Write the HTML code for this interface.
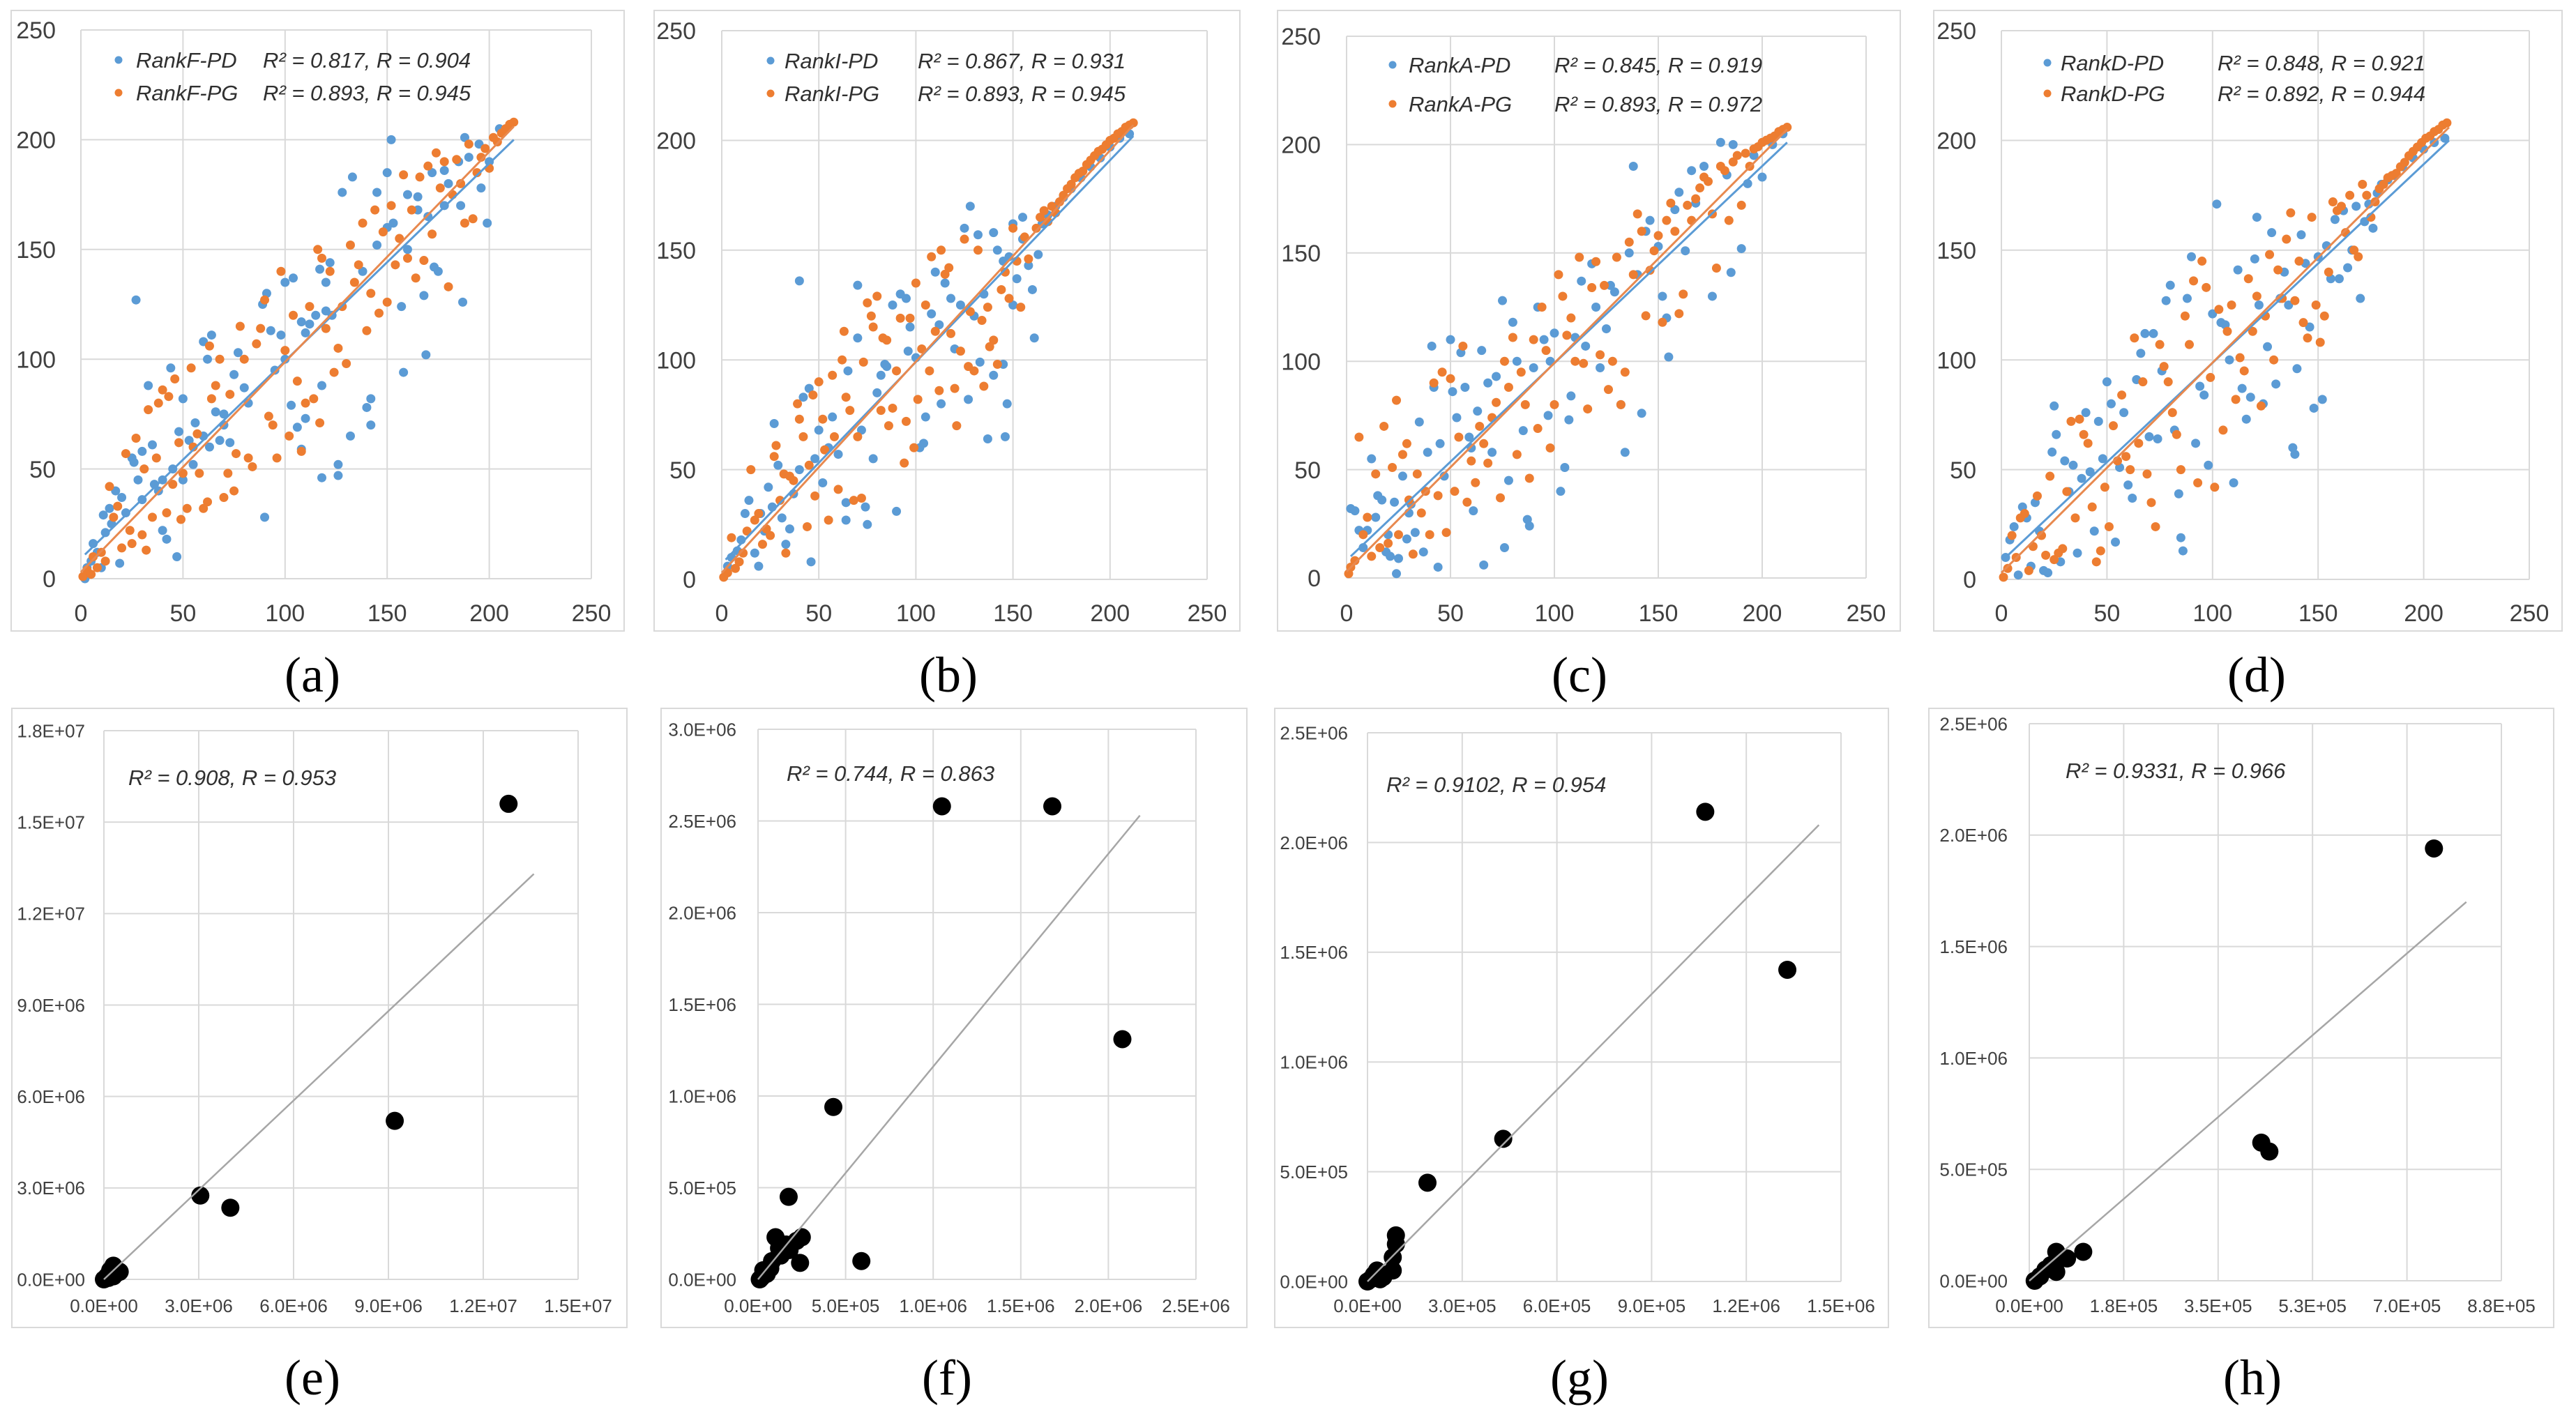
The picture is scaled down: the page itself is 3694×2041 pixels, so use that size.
<!DOCTYPE html>
<html><head><meta charset="utf-8">
<style>
html,body{margin:0;padding:0;background:#fff;}
svg{display:block;}
.tick{font-family:"Liberation Sans",sans-serif;fill:#404040;}
.leg{font-family:"Liberation Sans",sans-serif;font-style:italic;fill:#303030;}
.cap{font-family:"Liberation Serif",serif;fill:#000;}
</style></head>
<body>
<svg id="fig" width="3694" height="2041" viewBox="0 0 3694 2041" xmlns="http://www.w3.org/2000/svg"></svg>
<script>
// ---------- data (rank panels) ----------
const rankTicks = [0,50,100,150,200,250];
const aPD=[[27,127],[152,200],[188,201],[150,185],[133,183],[128,176],[145,176],[153,162],[160,175],[165,174],[172,185],[178,186],[186,170],[196,178],[199,162],[187,126],[175,140],[173,142],[168,129],[169,102],[158,94],[157,124],[142,82],[140,78],[142,70],[132,65],[126,52],[126,47],[118,46],[118,88],[123,120],[120,135],[122,144],[117,141],[112,116],[108,117],[104,137],[100,135],[98,111],[91,130],[89,125],[93,113],[103,79],[106,69],[110,73],[108,59],[90,28],[80,87],[77,103],[75,93],[73,62],[68,63],[66,76],[64,111],[60,108],[62,100],[56,71],[53,63],[50,82],[48,67],[47,10],[44,96],[42,18],[40,22],[38,40],[35,61],[33,88],[30,58],[28,45],[25,55],[26,53],[20,37],[19,7],[17,40],[14,32],[11,29],[6,16],[3,5],[5,8],[8,12],[12,21],[15,25],[22,30],[30,36],[36,43],[45,50],[55,52],[63,60],[70,75],[82,80],[95,95],[100,100],[110,112],[120,122],[138,140],[145,152],[150,160],[160,150],[165,168],[170,165],[180,180],[190,192],[195,198],[200,190],[205,205],[185,190],[178,170],[115,120],[70,70],[60,65],[40,45],[50,45],[10,5],[2,0]];
const aPG=[[1,1],[3,4],[5,2],[6,10],[8,5],[10,12],[12,8],[14,42],[16,28],[18,33],[20,14],[22,57],[24,22],[25,16],[27,64],[30,20],[31,50],[32,13],[33,77],[35,28],[37,55],[38,80],[40,86],[42,30],[43,83],[45,43],[46,91],[48,62],[49,27],[50,48],[52,32],[54,96],[55,60],[57,66],[58,48],[60,32],[62,35],[63,106],[64,82],[66,88],[68,100],[70,37],[72,48],[73,84],[75,40],[76,57],[78,115],[80,100],[82,55],[84,51],[86,107],[88,114],[90,127],[92,74],[94,70],[96,55],[98,140],[100,104],[102,65],[104,120],[106,90],[108,58],[110,80],[112,124],[114,82],[116,150],[117,71],[118,146],[120,114],[122,140],[124,94],[126,105],[128,124],[130,98],[132,152],[134,135],[136,143],[138,162],[140,113],[142,130],[144,168],[146,121],[148,158],[150,126],[152,170],[154,143],[156,155],[158,184],[160,146],[162,168],[164,137],[166,183],[168,145],[170,188],[172,157],[174,194],[176,178],[178,190],[180,133],[182,175],[184,191],[186,180],[188,162],[190,198],[192,164],[194,185],[196,192],[198,196],[200,187],[202,201],[204,199],[206,203],[208,205],[210,207],[212,208]];
const bPD=[[40,136],[70,134],[128,170],[125,160],[132,157],[150,162],[155,165],[148,147],[140,158],[142,150],[145,145],[161,110],[163,148],[160,132],[158,143],[152,137],[150,125],[147,80],[146,65],[137,64],[140,93],[133,99],[127,82],[123,125],[118,128],[115,135],[110,140],[108,121],[112,116],[113,80],[105,74],[102,60],[100,101],[97,115],[95,128],[92,130],[88,125],[85,97],[82,93],[80,85],[78,55],[75,25],[74,33],[72,68],[70,110],[65,95],[64,35],[64,27],[60,57],[57,74],[55,60],[52,44],[50,68],[48,55],[46,8],[45,87],[42,83],[40,50],[37,39],[35,23],[33,16],[31,28],[29,52],[27,71],[26,33],[24,42],[22,22],[20,30],[19,6],[17,12],[14,36],[12,30],[10,18],[8,13],[5,10],[3,6],[90,31],[84,98],[96,104],[104,62],[120,105],[130,120],[135,130],[145,98],[155,155],[165,162],[168,166],[172,170],[176,174],[180,178],[185,183],[190,188],[195,192],[200,197],[205,201],[210,203]];
const bPG=[[1,1],[3,3],[5,19],[7,5],[9,8],[11,12],[13,22],[15,50],[17,27],[19,30],[21,16],[23,23],[25,20],[27,56],[28,61],[30,36],[32,48],[33,12],[35,47],[37,45],[39,80],[40,73],[42,65],[44,24],[45,52],[47,84],[48,38],[50,90],[52,73],[53,59],[55,27],[57,93],[58,65],[60,41],[62,100],[63,113],[64,83],[66,77],[68,36],[70,65],[72,37],[73,99],[75,126],[77,120],[78,115],[80,129],[82,77],[83,110],[85,109],[86,70],[88,78],[90,95],[92,119],[94,53],[95,72],[97,119],[99,60],[100,135],[101,82],[103,105],[105,125],[107,95],[108,147],[110,113],[112,86],[113,150],[115,139],[117,142],[118,112],[120,87],[121,70],[123,104],[125,155],[127,97],[128,122],[130,95],[132,150],[134,118],[135,88],[137,124],[138,106],[140,109],[142,98],[144,132],[146,140],[148,128],[150,160],[152,145],[154,124],[156,156],[158,146],[162,160],[164,165],[166,168],[168,163],[170,170],[172,167],[174,172],[176,175],[178,178],[180,180],[182,183],[184,185],[186,186],[188,189],[190,191],[192,193],[194,195],[196,196],[198,198],[200,200],[202,201],[204,203],[206,204],[208,206],[210,207],[212,208]];
const cPD=[[2,32],[4,31],[6,22],[8,14],[10,22],[12,55],[14,28],[15,38],[17,36],[19,12],[21,10],[23,35],[24,2],[25,9],[27,47],[29,18],[31,34],[33,21],[35,72],[37,12],[39,58],[41,107],[42,88],[44,5],[45,62],[47,47],[50,110],[51,86],[53,74],[55,104],[57,88],[59,65],[61,31],[63,77],[65,105],[66,6],[68,90],[70,58],[72,93],[75,128],[76,14],[78,45],[80,118],[82,100],[85,68],[87,27],[88,24],[90,97],[92,125],[95,110],[97,75],[100,113],[103,40],[105,51],[107,73],[108,84],[110,111],[113,137],[115,107],[118,145],[120,125],[122,97],[125,115],[127,135],[129,132],[132,80],[134,58],[136,150],[138,190],[142,76],[144,160],[146,165],[150,153],[152,130],[154,120],[155,102],[158,170],[160,178],[163,151],[166,188],[168,173],[172,190],[176,130],[180,201],[183,186],[185,141],[186,200],[190,152],[193,182],[196,195],[200,185],[205,200],[210,205],[30,30],[20,20],[60,60],[98,100],[140,140]];
const cPG=[[1,2],[2,5],[4,8],[6,65],[8,20],[10,28],[12,10],[14,48],[16,14],[18,70],[20,16],[22,51],[24,82],[25,20],[27,57],[29,62],[30,36],[32,11],[34,48],[36,30],[38,40],[40,20],[42,90],[44,38],[46,95],[48,21],[50,92],[52,40],[54,65],[56,107],[58,35],[60,54],[62,44],[64,70],[66,62],[68,53],[70,74],[72,81],[74,37],[76,100],[78,88],[80,111],[82,57],[84,95],[86,80],[88,46],[90,110],[92,69],[94,125],[96,105],[98,60],[100,80],[102,140],[104,130],[106,112],[108,120],[110,100],[112,148],[114,99],[116,78],[118,134],[120,146],[122,103],[124,135],[126,87],[128,100],[130,148],[132,80],[134,95],[136,155],[138,140],[140,168],[142,160],[144,121],[146,142],[148,151],[150,158],[152,118],[154,165],[156,173],[158,160],[160,122],[162,131],[164,172],[166,165],[168,175],[170,180],[172,185],[174,183],[176,168],[178,143],[180,190],[182,188],[184,165],[186,192],[188,195],[190,172],[192,196],[194,190],[196,198],[198,199],[200,201],[202,202],[204,203],[206,204],[208,206],[210,207],[212,208]];
const dPD=[[2,10],[4,18],[6,24],[8,2],[10,33],[12,28],[14,6],[16,35],[18,22],[20,4],[22,3],[24,58],[25,79],[26,66],[28,8],[30,54],[32,40],[34,52],[36,12],[38,46],[40,76],[42,49],[44,22],[46,72],[48,55],[50,90],[52,80],[54,17],[56,51],[58,76],[60,43],[62,37],[64,91],[66,103],[68,112],[70,65],[72,112],[74,64],[76,95],[78,127],[80,134],[82,68],[84,39],[85,19],[86,13],[88,128],[90,147],[92,62],[94,88],[96,84],[98,52],[100,121],[102,171],[104,117],[106,116],[108,100],[110,44],[112,141],[114,87],[116,73],[118,83],[120,146],[121,165],[122,125],[124,80],[126,106],[128,158],[130,89],[132,128],[134,140],[136,125],[138,60],[139,57],[140,96],[142,157],[144,144],[146,115],[148,78],[150,147],[152,82],[154,152],[156,137],[158,164],[160,137],[162,168],[164,142],[166,150],[168,170],[170,128],[172,163],[174,171],[176,160],[178,176],[180,180],[183,182],[186,184],[190,188],[195,192],[200,196],[205,199],[210,201]];
const dPG=[[1,1],[3,5],[5,20],[7,10],[9,28],[11,30],[13,4],[15,15],[17,38],[19,20],[21,11],[23,47],[25,9],[27,12],[29,14],[31,40],[33,72],[35,28],[37,73],[39,66],[41,62],[43,33],[45,8],[47,13],[49,42],[51,24],[53,70],[55,54],[57,84],[59,56],[61,50],[63,110],[65,62],[67,90],[69,48],[71,35],[73,24],[75,107],[77,97],[79,90],[81,76],[83,66],[85,50],[87,120],[89,107],[91,136],[93,44],[95,145],[97,133],[99,92],[101,42],[103,123],[105,68],[107,113],[109,125],[111,82],[113,101],[115,95],[117,137],[119,113],[121,129],[123,79],[125,120],[127,148],[129,100],[131,141],[133,128],[135,155],[137,167],[139,127],[141,145],[143,117],[145,110],[147,165],[149,125],[151,108],[153,120],[155,140],[157,172],[159,168],[161,170],[163,158],[165,175],[167,150],[169,147],[171,180],[173,175],[175,165],[177,172],[179,178],[181,180],[183,183],[185,184],[187,185],[189,188],[191,190],[193,193],[195,195],[197,197],[199,199],[201,201],[203,202],[205,204],[207,205],[209,207],[211,208]];
// trend lines: [x0, y0, x1, y1]
const aFitPD=[2,11,212,200], aFitPG=[0,3,212,206];
const bFitPD=[2,9,212,202], bFitPG=[0,3,212,207];
const cFitPD=[2,10,212,201], cFitPG=[0,3,212,207];
const dFitPD=[2,10,212,200], dFitPG=[0,3,212,206];

// ---------- data (size panels) ----------
const eTicksX=[0,3e6,6e6,9e6,1.2e7,1.5e7], eTicksY=[0,3e6,6e6,9e6,1.2e7,1.5e7,1.8e7];
const eLabX=["0.0E+00","3.0E+06","6.0E+06","9.0E+06","1.2E+07","1.5E+07"];
const eLabY=["0.0E+00","3.0E+06","6.0E+06","9.0E+06","1.2E+07","1.5E+07","1.8E+07"];
const ePts=[[1.28e7,1.56e7],[9.2e6,5.2e6],[3.05e6,2.75e6],[4.0e6,2.35e6],[0,0],[1e5,1e5],[2e5,3e5],[3e5,4.5e5],[4e5,2e5],[5e5,2.5e5],[1.5e5,5e4],[3e5,1e5]];
const eFit=[0,0,1.36e7,1.33e7];
const fTicksX=[0,5e5,1e6,1.5e6,2e6,2.5e6], fTicksY=[0,5e5,1e6,1.5e6,2e6,2.5e6,3e6];
const fLabX=["0.0E+00","5.0E+05","1.0E+06","1.5E+06","2.0E+06","2.5E+06"];
const fLabY=["0.0E+00","5.0E+05","1.0E+06","1.5E+06","2.0E+06","2.5E+06","3.0E+06"];
const fPts=[[1.05e6,2.58e6],[1.68e6,2.58e6],[2.08e6,1.31e6],[4.3e5,9.4e5],[1.75e5,4.5e5],[5.9e5,1.0e5],[1.0e5,2.3e5],[2.5e5,2.3e5],[2.2e5,2.1e5],[1.8e5,1.6e5],[1.3e5,1.3e5],[2.4e5,9e4],[7e4,6e4],[5e4,3e4],[2e4,1e4],[1e4,0],[3e4,5e4],[8e4,1e5],[1.6e5,1.9e5],[1.2e5,1.7e5]];
const fFit=[0,0,2.18e6,2.53e6];
const gTicksX=[0,3e5,6e5,9e5,1.2e6,1.5e6], gTicksY=[0,5e5,1e6,1.5e6,2e6,2.5e6];
const gLabX=["0.0E+00","3.0E+05","6.0E+05","9.0E+05","1.2E+06","1.5E+06"];
const gLabY=["0.0E+00","5.0E+05","1.0E+06","1.5E+06","2.0E+06","2.5E+06"];
const gPts=[[1.07e6,2.14e6],[1.33e6,1.42e6],[4.3e5,6.5e5],[1.9e5,4.5e5],[9e4,2.1e5],[9e4,1.7e5],[8e4,1.1e5],[8e4,5e4],[5e4,2e4],[3e4,5e4],[2e4,3e4],[1e4,1e4],[0,0],[4e4,1e4]];
const gFit=[0,0,1.43e6,2.08e6];
const hTicksX=[0,1.75e5,3.5e5,5.25e5,7e5,8.75e5], hTicksY=[0,5e5,1e6,1.5e6,2e6,2.5e6];
const hLabX=["0.0E+00","1.8E+05","3.5E+05","5.3E+05","7.0E+05","8.8E+05"];
const hLabY=["0.0E+00","5.0E+05","1.0E+06","1.5E+06","2.0E+06","2.5E+06"];
const hPts=[[7.5e5,1.94e6],[4.3e5,6.2e5],[4.45e5,5.8e5],[1.0e5,1.3e5],[5e4,1.3e5],[7e4,1e5],[4e4,7e4],[3e4,5e4],[2e4,2e4],[1e4,0],[5e4,4e4]];
const hFit=[0,0,8.1e5,1.7e6];

// ---------- drawing ----------
const NS="http://www.w3.org/2000/svg";
const svg=document.getElementById('fig');
function mk(tag,attrs,parent){const e=document.createElementNS(NS,tag);for(const k in attrs)e.setAttribute(k,attrs[k]);(parent||svg).appendChild(e);return e;}

function panel(cfg){
  const g=mk('g',{});
  
  
  const fr=mk('rect',{x:cfg.frame[0],y:cfg.frame[1],width:cfg.frame[2]-cfg.frame[0],height:cfg.frame[3]-cfg.frame[1],fill:'#fff',stroke:'#d9d9d9','stroke-width':2},g);
  
  
  const [L,T,R,B]=cfg.plot;
  const xs=v=>L+(v-cfg.tx[0])/(cfg.tx[cfg.tx.length-1]-cfg.tx[0])*(R-L);
  const ys=v=>B-(v-cfg.ty[0])/(cfg.ty[cfg.ty.length-1]-cfg.ty[0])*(B-T);
  cfg.tx.forEach((v,i)=>{
    const l=mk('line',{x1:xs(v),x2:xs(v),y1:T,y2:B,stroke:'#d9d9d9','stroke-width':2},g);
    
    
    const t=mk('text',{x:xs(v),y:cfg.xLabY,'text-anchor':'middle','font-size':cfg.fs,class:'tick'},g);
    
    
    t.textContent=cfg.lx?cfg.lx[i]:v;
  });
  cfg.ty.forEach((v,i)=>{
    const l=mk('line',{x1:L,x2:R,y1:ys(v),y2:ys(v),stroke:'#d9d9d9','stroke-width':2},g);
    
    
    const t=mk('text',{x:cfg.yLabR,y:ys(v)+cfg.fs*0.36,'text-anchor':'end','font-size':cfg.fs,class:'tick'},g);
    
    
    t.textContent=cfg.ly?cfg.ly[i]:v;
  });
  cfg.series.forEach(s=>{
    const sg=mk('g',{},g);
    
    
    s.pts.forEach(p=>{
      const c=mk('circle',{cx:xs(p[0]),cy:ys(p[1]),r:s.r,fill:s.color},sg);
      
      
    });
  });
  cfg.fits.forEach(f=>{
    const l=mk('line',{x1:xs(f.v[0]),y1:ys(f.v[1]),x2:xs(f.v[2]),y2:ys(f.v[3]),stroke:f.color,'stroke-width':f.w},g);
    
    
  });
  (cfg.legend||[]).forEach(e=>{
    if(e.dot){
      const c=mk('circle',{cx:e.dot[0],cy:e.dot[1],r:5.5,fill:e.color},g);
      
      
    }
    const t=mk('text',{x:e.x,y:e.y,'font-size':e.fs,class:'leg'},g);
    
    
    t.textContent=e.text;
  });
  const c=mk('text',{x:cfg.cap[0],y:cfg.cap[1],'text-anchor':'middle','font-size':72,class:'cap'},g);
  
  
  c.textContent='('+cfg.id+')';
}
const BLUE='#5b9bd5', ORANGE='#ed7d31';
function rankPanel(id,frame,plot,yLabR,PD,PG,fPD,fPG,nm,r2a,r2b,leg,cap){
  panel({id,frame,plot,tx:rankTicks,ty:rankTicks,fs:34,xLabY:891,yLabR,
    series:[{name:nm+'-PD',pts:PD,color:BLUE,r:6.5},{name:nm+'-PG',pts:PG,color:ORANGE,r:6.5}],
    fits:[{v:fPD,color:BLUE,w:3},{v:fPG,color:'#e8894f',w:3}],
    legend:[{dot:[leg[0],leg[1]],color:BLUE,x:leg[2],y:leg[1]+11,fs:31,text:nm+'-PD'},
            {dot:[leg[0],leg[4]],color:ORANGE,x:leg[2],y:leg[4]+11,fs:31,text:nm+'-PG'},
            {x:leg[3],y:leg[1]+11,fs:31,text:r2a},{x:leg[3],y:leg[4]+11,fs:31,text:r2b}],
    cap});
}
rankPanel('a',[16,15,895,905],[116,43,848,830],80,aPD,aPG,aFitPD,aFitPG,'RankF','R² = 0.817, R = 0.904','R² = 0.893, R = 0.945',[170,86,195,377,133],[448,992]);
rankPanel('b',[938,15,1778,905],[1035,44,1731,831],998,bPD,bPG,bFitPD,bFitPG,'RankI','R² = 0.867, R = 0.931','R² = 0.893, R = 0.945',[1105,87,1125,1316,134],[1360,992]);
rankPanel('c',[1832,15,2725,905],[1931,52,2676,829],1894,cPD,cPG,cFitPD,cFitPG,'RankA','R² = 0.845, R = 0.919','R² = 0.893, R = 0.972',[1997,93,2020,2229,149],[2265,992]);
rankPanel('d',[2773,15,3674,905],[2870,44,3627,831],2834,dPD,dPG,dFitPD,dFitPG,'RankD','R² = 0.848, R = 0.921','R² = 0.892, R = 0.944',[2936,90,2955,3180,134],[3236,992]);

function sizePanel(id,frame,plot,yLabR,tx,ty,lx,ly,pts,fit,txt,tpos,cap){
  panel({id,frame,plot,tx,ty,lx,ly,fs:26,xLabY:1882,yLabR,
    series:[{name:'sizes',pts,color:'#000',r:13}],
    fits:[{v:fit,color:'#a6a6a6',w:2.5}],
    legend:[{x:tpos[0],y:tpos[1]+11,fs:31,text:txt}],cap});
}
sizePanel('e',[17,1016,899,1904],[149,1048,829,1835],122,eTicksX,eTicksY,eLabX,eLabY,ePts,eFit,'R² = 0.908, R = 0.953',[184,1115],[448,2000]);
sizePanel('f',[948,1016,1788,1904],[1087,1046,1715,1835],1056,fTicksX,fTicksY,fLabX,fLabY,fPts,fFit,'R² = 0.744, R = 0.863',[1128,1109],[1358,2000]);
sizePanel('g',[1828,1016,2708,1904],[1961,1051,2640,1838],1933,gTicksX,gTicksY,gLabX,gLabY,gPts,gFit,'R² = 0.9102, R = 0.954',[1988,1125],[2265,2000]);
sizePanel('h',[2766,1016,3662,1904],[2910,1038,3587,1837],2879,hTicksX,hTicksY,hLabX,hLabY,hPts,hFit,'R² = 0.9331, R = 0.966',[2962,1105],[3230,2000]);
</script>
</body></html>
